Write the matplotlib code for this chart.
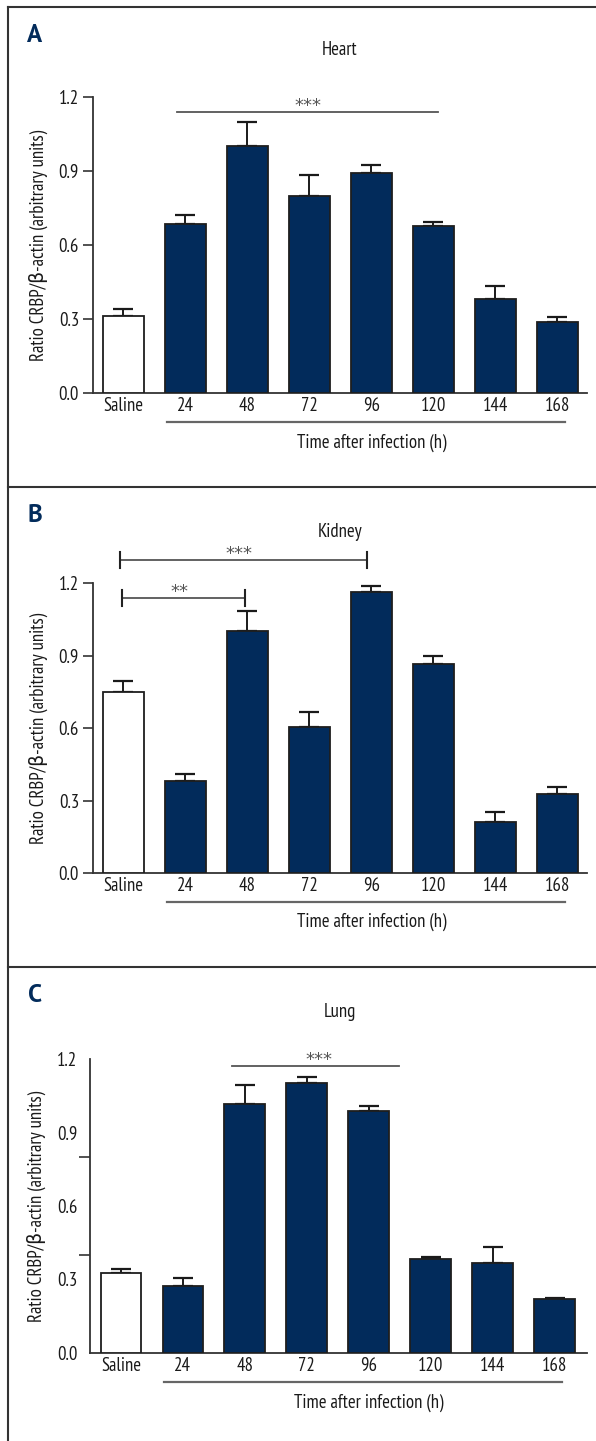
import numpy as np
import matplotlib
matplotlib.use("Agg")
import matplotlib.pyplot as plt
from matplotlib.lines import Line2D
from matplotlib.transforms import blended_transform_factory

# ---- data -------------------------------------------------------------
groups = ["Saline", "24", "48", "72", "96", "120", "144", "168"]
y_ticks = [0.0, 0.3, 0.6, 0.9, 1.2]

heart_mean = [0.312, 0.685, 1.000, 0.800, 0.890, 0.677, 0.381, 0.288]
heart_sem = [0.028, 0.035, 0.100, 0.084, 0.035, 0.016, 0.053, 0.020]

kidney_mean = [0.749, 0.381, 1.000, 0.604, 1.163, 0.865, 0.211, 0.327]
kidney_sem = [0.045, 0.029, 0.084, 0.062, 0.024, 0.033, 0.041, 0.029]

lung_mean = [0.327, 0.274, 1.016, 1.102, 0.988, 0.384, 0.367, 0.220]
lung_sem = [0.016, 0.032, 0.078, 0.025, 0.020, 0.008, 0.066, 0.004]

panel_letters = ["A", "B", "C"]
organs = ["Heart", "Kidney", "Lung"]

# ---- style -------------------------------------------------------------
FONT = ["PT Sans Narrow", "DejaVu Sans"]
plt.rcParams["font.family"] = FONT
NAVY = "#022b5b"
EDGE = "#1e1e1e"
AXC = "#333333"
SIGC = "#555555"
TXT = "#1a1a1a"
FS = 13.5
FS_YLAB = 13.5

W, H = 596, 1441
fig = plt.figure(figsize=(W / 100, H / 100), dpi=100)


def axes_px(left, right, top, bottom):
    return fig.add_axes([left / W, 1 - bottom / H, (right - left) / W, (bottom - top) / H])


def draw_bars(ax, means, sems, xlim):
    x = np.arange(len(groups))
    colors = ["white"] + [NAVY] * (len(groups) - 1)
    ax.errorbar(x, means, yerr=[np.zeros(len(sems)), sems], fmt="none",
                ecolor="#1a1a1a", elinewidth=1.4, capsize=7.5, capthick=1.6, zorder=2)
    ax.bar(x, means, width=0.66, color=colors, edgecolor=EDGE, linewidth=1.3, zorder=3)
    ax.set_xlim(*xlim)
    ax.set_ylim(0, 1.2)
    for s in ["top", "right"]:
        ax.spines[s].set_visible(False)
    for s in ["left", "bottom"]:
        ax.spines[s].set_color(AXC)
        ax.spines[s].set_linewidth(1.3)
    ax.set_xticks(x)
    ax.set_xticklabels(groups, fontsize=FS)
    ax.tick_params(axis="x", length=0, pad=3, colors=TXT)
    ax.tick_params(axis="y", length=7, width=1.2, color=AXC, pad=3, labelsize=FS,
                   labelcolor=TXT)
    ax.set_ylabel("Ratio CRBP/β-actin (arbitrary units)", fontsize=FS_YLAB, color=TXT,
                  labelpad=8)
    # underline spanning the infected time points, with the axis title below it
    tr = blended_transform_factory(ax.transData, ax.transAxes)
    ax.add_line(Line2D([0.70, 7.12], [-0.099, -0.099], transform=tr, color="#666666",
                       linewidth=1.6, clip_on=False))
    ax.text(4.0, -0.17, "Time after infection (h)", transform=tr, ha="center", va="center",
            fontsize=FS, color=TXT)


def sig_line(ax, x0, x1, y, stars, xs, caps=None):
    ax.plot([x0, x1], [y, y], color=SIGC, linewidth=1.3, clip_on=False, zorder=4)
    if caps:
        for xc in (x0, x1):
            ax.plot([xc, xc], [y - caps, y + caps], color="#222222", linewidth=1.5,
                    clip_on=False, zorder=4)
    ax.text(xs, y + 0.004, stars, ha="center", va="baseline", fontsize=13,
            color=SIGC, family="DejaVu Sans", clip_on=False)


# heart
axA = axes_px(93, 587, 97, 393)
draw_bars(axA, heart_mean, heart_sem, (-0.49, 7.48))
axA.set_yticks(y_ticks)
axA.set_yticklabels([f"{v:.1f}" for v in y_ticks])
sig_line(axA, 0.863, 5.07, 1.139, "***", 2.98)

# kidney
axB = axes_px(93, 587, 583, 873)
draw_bars(axB, kidney_mean, kidney_sem, (-0.49, 7.48))
axB.set_yticks(y_ticks)
axB.set_yticklabels([f"{v:.1f}" for v in y_ticks])
sig_line(axB, -0.056, 3.93, 1.295, "***", 1.86, caps=0.033)
sig_line(axB, -0.02, 1.96, 1.138, "**", 0.91, caps=0.035)

# lung: labels every 0.3, tick marks every 0.4
axC = axes_px(90, 587, 1059, 1353)
draw_bars(axC, lung_mean, lung_sem, (-0.5, 7.52))
axC.set_yticks(y_ticks)
axC.set_yticklabels([f"{v:.1f}" for v in y_ticks])
axC.set_yticks([0.0, 0.4, 0.8, 1.2], minor=True)
axC.tick_params(axis="y", which="major", length=0, pad=9)
axC.tick_params(axis="y", which="minor", length=8, width=1.2, color=AXC)
sig_line(axC, 1.79, 4.48, 1.171, "***", 3.19)

# panel letters, organ titles and frame lines
for letter, organ, ly, ty in zip(panel_letters, organs, [35, 515, 995], [50, 532, 1012]):
    fig.text(35 / W, 1 - ly / H, letter, ha="center", va="center", fontsize=18,
             fontweight="bold", color=NAVY, family=["PT Sans", "DejaVu Sans"])
    fig.text(340 / W, 1 - ty / H, organ, ha="center", va="center", fontsize=FS,
             color=TXT)

for yb in [7, 486.5, 967]:
    fig.add_artist(Line2D([8 / W, 1], [1 - yb / H, 1 - yb / H], color=AXC, linewidth=1.5))
fig.add_artist(Line2D([8 / W, 8 / W], [0, 1 - 7 / H], color=AXC, linewidth=1.5))

fig.savefig("out.png", dpi=100, facecolor="white")
